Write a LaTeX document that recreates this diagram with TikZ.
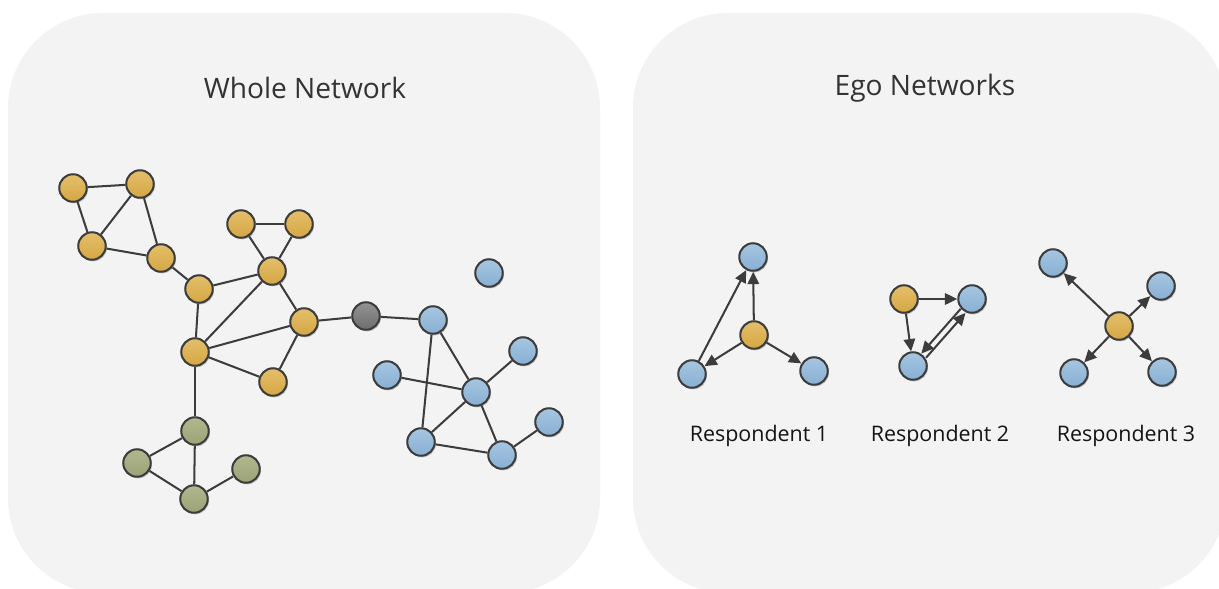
\documentclass[tikz,border=0pt]{standalone}
\usepackage{fontspec}
\setmainfont{Open Sans}
\usetikzlibrary{arrows.meta,shadows}
\definecolor{panel}{HTML}{F3F3F3}
\definecolor{edgec}{HTML}{3C3C3C}
\definecolor{orT}{HTML}{E3BE6A}
\definecolor{orB}{HTML}{D5A744}
\definecolor{blT}{HTML}{A6C6E1}
\definecolor{blB}{HTML}{88AFD3}
\definecolor{grT}{HTML}{B2B88F}
\definecolor{grB}{HTML}{9BA274}
\definecolor{gyT}{HTML}{939393}
\definecolor{gyB}{HTML}{6E6E6E}
\definecolor{titlec}{HTML}{333333}
\begin{document}
\begin{tikzpicture}[x=0.02cm,y=-0.02cm,
  vert/.style={circle,draw=edgec,line width=1.15pt,minimum size=0.55cm,inner sep=0pt,
    drop shadow={shadow xshift=0.7pt,shadow yshift=-0.9pt,opacity=0.22,fill=black}},
  ov/.style={vert,top color=orT,bottom color=orB},
  bv/.style={vert,top color=blT,bottom color=blB},
  gv/.style={vert,top color=grT,bottom color=grB},
  kv/.style={vert,top color=gyT,bottom color=gyB},
  edge/.style={draw=edgec,line width=1.15pt},
  arr/.style={edge,-{Triangle[length=7pt,width=6.5pt]}},
  title/.style={text=titlec,font=\fontsize{16}{19}\selectfont},
  caption/.style={text=black!92,font=\fontsize{12.2}{14}\selectfont}]
\useasboundingbox (0,0) rectangle (1219,588);
\fill[white] (0,0) rectangle (1219,588);
% panels
\fill[panel,rounded corners=1.9cm] (8,13) rectangle (600,593);
\fill[panel,rounded corners=1.9cm] (633,13) rectangle (1226,593);
\node[title] (t1) at (305,88) {Whole Network};
\node[title] (t2) at (925,88) {Ego Networks};

% whole network: orange cluster
\node[ov] (a1) at (73,188) {};
\node[ov] (a2) at (140,184) {};
\node[ov] (a3) at (92,246) {};
\node[ov] (a4) at (161,258) {};
\node[ov] (b1) at (241,224) {};
\node[ov] (b2) at (299,224) {};
\node[ov] (c) at (199,289) {};
\node[ov] (d) at (272,271) {};
\node[ov] (e) at (304,322) {};
\node[ov] (f) at (195,352) {};
\node[ov] (g) at (273,382) {};
% bridge
\node[kv] (h) at (366,316) {};
% blue cluster
\node[bv] (i) at (433,320) {};
\node[bv] (j) at (489,273) {};
\node[bv] (k) at (523,351) {};
\node[bv] (l) at (387,375) {};
\node[bv] (m) at (476,392) {};
\node[bv] (n) at (549,422) {};
\node[bv] (o) at (421,442) {};
\node[bv] (p) at (502,455) {};
% green cluster
\node[gv] (q) at (195,431) {};
\node[gv] (r) at (137,463) {};
\node[gv] (s) at (246,469) {};
\node[gv] (u) at (194,499) {};

\foreach \x/\y in {a1/a2,a1/a3,a2/a3,a2/a4,a3/a4,a4/c,c/d,c/f,b1/b2,b1/d,b2/d,d/e,f/d,f/e,f/g,g/e,e/h,h/i,i/m,i/o,l/m,k/m,m/o,m/p,o/p,p/n,f/q,q/r,q/u,r/u,u/s}
  \draw[edge] (\x) -- (\y);

% ego network 1
\node[bv] (r1t) at (753,257) {};
\node[ov] (r1c) at (754,335) {};
\node[bv] (r1l) at (692,374) {};
\node[bv] (r1r) at (814,371) {};
\draw[arr] (r1c) -- (r1t);
\draw[arr] (r1c) -- (r1l);
\draw[arr] (r1c) -- (r1r);
\draw[arr] (r1l) -- (r1t);
\node[caption] (c1) at (759,436) {Respondent 1};

% ego network 2
\node[ov] (r2o) at (904,299) {};
\node[bv] (r2r) at (972,299) {};
\node[bv] (r2b) at (913,366) {};
\draw[arr] (r2o) -- (r2r);
\draw[arr] (r2o) -- (r2b);
\draw[arr,transform canvas={xshift=-0.03cm,yshift=0.026cm}] (r2r) -- (r2b);
\draw[arr,transform canvas={xshift=0.065cm,yshift=-0.057cm}] (r2b) -- (r2r);
\node[caption] (c2) at (940,436) {Respondent 2};

% ego network 3
\node[ov] (r3c) at (1119,326) {};
\node[bv] (r3a) at (1053,263) {};
\node[bv] (r3b) at (1161,286) {};
\node[bv] (r3d) at (1074,373) {};
\node[bv] (r3e) at (1162,372) {};
\foreach \y in {r3a,r3b,r3d,r3e}
  \draw[arr] (r3c) -- (\y);
\node[caption] (c3) at (1126,436) {Respondent 3};
\end{tikzpicture}
\end{document}
